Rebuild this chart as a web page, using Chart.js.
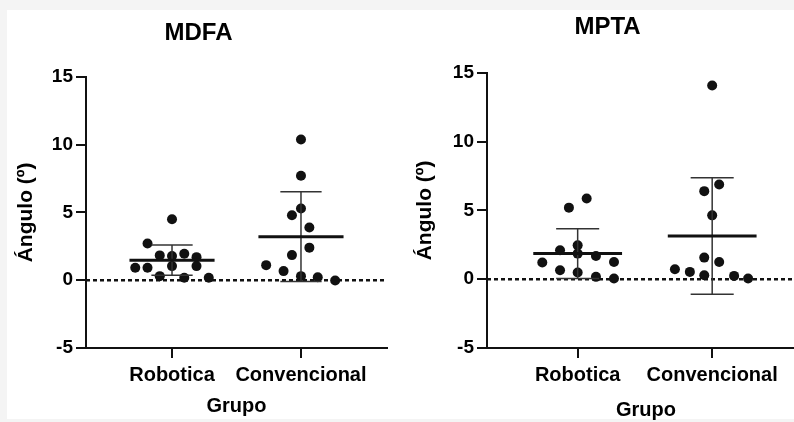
<!DOCTYPE html>
<html>
<head>
<meta charset="utf-8">
<script src="https://cdn.jsdelivr.net/npm/chart.js@4.4.1/dist/chart.umd.min.js"></script>
<style>
  html, body { margin: 0; padding: 0; width: 794px; height: 422px; overflow: hidden; background: #f4f4f4; }
  #paper { position: absolute; left: 7px; top: 10px; width: 787px; height: 409px; background: #fff; }
  canvas { position: absolute; top: 0; }
  #chartMdfa { left: 0; }
  #chartMpta { left: 400px; }
</style>
</head>
<body>
<div id="paper"></div>
<canvas id="chartMdfa" width="400" height="422"></canvas>
<canvas id="chartMpta" width="410" height="422"></canvas>
<script>
const groups = ['Robotica', 'Convencional'];
const yTicks = [-5, 0, 5, 10, 15];

// MDFA values (degrees) and horizontal scatter offsets (in group units)
const mdfaRobotica = [4.5, 2.7, 1.83, 1.78, 1.95, 1.7, 0.92, 0.92, 1.04, 1.04, 0.3, 0.18, 0.18];
const mdfaRoboticaJitter = [0, -0.19, -0.095, 0, 0.095, 0.19, -0.285, -0.19, 0, 0.19, -0.095, 0.095, 0.285];
const mdfaConvencional = [10.37, 7.7, 5.29, 4.79, 3.88, 2.4, 1.85, 1.11, 0.67, 0.3, 0.22, -0.02];
const mdfaConvencionalJitter = [0, 0, 0, -0.07, 0.065, 0.065, -0.07, -0.27, -0.135, 0, 0.13, 0.265];
const mdfaMean = [1.48, 3.21];
const mdfaSd = [1.11, 3.31];

// MPTA
const mptaRobotica = [5.2, 5.87, 2.1, 2.46, 1.86, 1.69, 1.21, 1.25, 0.65, 0.49, 0.17, 0.05];
const mptaRoboticaJitter = [-0.065, 0.067, -0.131, 0, 0, 0.136, -0.263, 0.27, -0.131, 0, 0.136, 0.27];
const mptaConvencional = [6.4, 6.88, 4.64, 1.57, 1.25, 0.72, 0.53, 0.29, 0.24, 0.05, 14.08];
const mptaConvencionalJitter = [-0.059, 0.052, 0, -0.059, 0.052, -0.277, -0.166, -0.059, 0.163, 0.267, 0];
const mptaMean = [1.86, 3.14];
const mptaSd = [1.81, 4.23];

const FONT = '"Liberation Sans", Arial, sans-serif';
const MEAN_HALF = 0.33;
const CAP_HALF = 0.16;

function segment(x1, y1, x2, y2, color, width, dash) {
  return {
    data: [{x: x1, y: y1}, {x: x2, y: y2}],
    showLine: true,
    borderColor: color,
    borderWidth: width,
    borderDash: dash || [],
    pointRadius: 0,
    fill: false
  };
}

function makeChart(id, title, values, jitters, means, sds, cfg) {
  const datasets = [];
  means.forEach((m, i) => {
    datasets.push(segment(i - MEAN_HALF, m, i + MEAN_HALF, m, '#111', 3));
    datasets.push(segment(i, m - sds[i], i, m + sds[i], '#333', 1.5));
    datasets.push(segment(i - CAP_HALF, m + sds[i], i + CAP_HALF, m + sds[i], '#333', 1.5));
    datasets.push(segment(i - CAP_HALF, m - sds[i], i + CAP_HALF, m - sds[i], '#333', 1.5));
  });
  values.forEach((vals, g) => {
    datasets.push({
      data: vals.map((v, k) => ({x: g + jitters[g][k], y: v})),
      pointRadius: 5,
      pointBackgroundColor: '#111',
      pointBorderWidth: 0,
      showLine: false
    });
  });
  // dashed zero line
  datasets.push(segment(cfg.xMin, 0, cfg.xMax, 0, '#111', 2.5, [4, 3]));

  return new Chart(document.getElementById(id).getContext('2d'), {
    type: 'scatter',
    data: { datasets: datasets },
    options: {
      responsive: false,
      animation: false,
      layout: { padding: cfg.padding },
      plugins: {
        legend: { display: false },
        tooltip: { enabled: false },
        title: {
          display: true,
          text: title,
          color: '#000',
          font: { family: FONT, size: 24, weight: 'bold' },
          padding: cfg.titlePadding
        }
      },
      scales: {
        x: {
          type: 'linear',
          min: cfg.xMin,
          max: cfg.xMax,
          afterFit: s => { s.height = cfg.xHeight; },
          afterBuildTicks: s => { s.ticks = groups.map((g, i) => ({value: i})); },
          ticks: {
            color: '#000',
            padding: 5,
            font: { family: FONT, size: 20, weight: 'bold' },
            callback: v => groups[v]
          },
          grid: { drawOnChartArea: false, drawTicks: true, tickLength: 10, color: '#111', lineWidth: 2 },
          border: { display: true, color: '#111', width: 2 },
          title: {
            display: true,
            text: 'Grupo',
            color: '#000',
            font: { family: FONT, size: 20, weight: 'bold' },
            padding: { top: 0, bottom: cfg.xTitleBottom }
          }
        },
        y: {
          min: -5,
          max: 15,
          afterFit: s => { s.width = cfg.yWidth; },
          afterBuildTicks: s => { s.ticks = yTicks.map(v => ({value: v})); },
          ticks: {
            color: '#000',
            padding: 3,
            font: { family: FONT, size: 19, weight: 'bold' }
          },
          grid: { drawOnChartArea: false, drawTicks: true, tickLength: 10, color: '#111', lineWidth: 2 },
          border: { display: true, color: '#111', width: 2 },
          title: {
            display: true,
            text: 'Ángulo (º)',
            color: '#000',
            font: { family: FONT, size: 21, weight: 'bold' },
            padding: { top: cfg.yTitleTop, bottom: 0 }
          }
        }
      }
    }
  });
}

makeChart('chartMdfa', 'MDFA',
  [mdfaRobotica, mdfaConvencional],
  [mdfaRoboticaJitter, mdfaConvencionalJitter],
  mdfaMean, mdfaSd,
  { padding: {left: 10, right: 13, top: 0, bottom: 0}, yWidth: 76, xHeight: 74,
    xMin: -0.667, xMax: 1.667, titlePadding: {top: 19, bottom: 29}, xTitleBottom: 4, yTitleTop: 4 });

makeChart('chartMpta', 'MPTA',
  [mptaRobotica, mptaConvencional],
  [mptaRoboticaJitter, mptaConvencionalJitter],
  mptaMean, mptaSd,
  { padding: {left: 10, right: 5, top: 0, bottom: 0}, yWidth: 77, xHeight: 74,
    xMin: -0.674, xMax: 1.69, titlePadding: {top: 13, bottom: 31}, xTitleBottom: 0, yTitleTop: 3 });
</script>
</body>
</html>
